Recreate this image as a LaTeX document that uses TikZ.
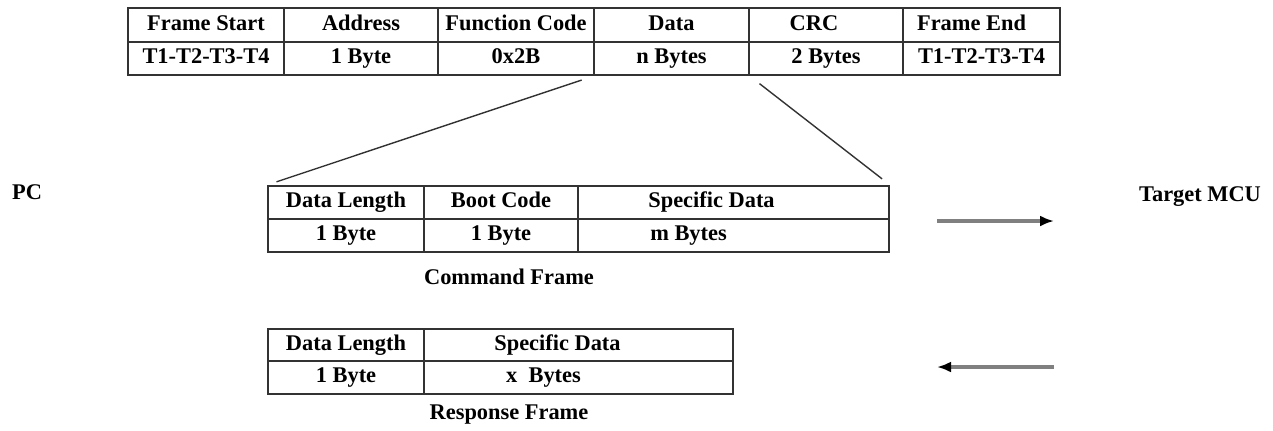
\documentclass[tikz,border=0pt]{standalone}
\usepackage{fontspec}
\setmainfont{Liberation Serif}
\usetikzlibrary{arrows.meta}

\begin{document}
\begin{tikzpicture}[x=0.5pt, y=-0.5pt,
    every node/.style={font=\fontsize{11.2}{13}\selectfont\bfseries},
    cell/.style={draw=black!80, line width=1pt, rectangle, inner sep=0pt, text height=7.6pt, text depth=2.4pt},
    zoomline/.style={draw=black!80, line width=0.7pt, shorten <=6pt, shorten >=5pt},
    flow/.style={draw=black!50, line width=1.7pt, -{Latex[length=7pt, width=5.5pt, black]}}]
    \useasboundingbox (0,0) rectangle (1273,430);

    % フレーム全体
    \node[cell, minimum width=78pt, minimum height=16.75pt] (fs) at (206, 25) {Frame Start};
    \node[cell, minimum width=77pt, minimum height=16.75pt] (ad) at (361, 25) {Address};
    \node[cell, minimum width=78pt, minimum height=16.75pt] (fc) at (516, 25) {Function Code};
    \node[cell, minimum width=77.5pt, minimum height=16.75pt] (da) at (671.5, 25) {Data};
    \node[cell, minimum width=77pt, minimum height=16.75pt] (crc) at (826, 25) {CRC\hspace*{12pt}};
    \node[cell, minimum width=78.5pt, minimum height=16.75pt] (fe) at (981.5, 25) {Frame End\hspace*{10pt}};
    \node[cell, minimum width=78pt, minimum height=16.75pt] (fsv) at (206, 58.5) {T1-T2-T3-T4};
    \node[cell, minimum width=77pt, minimum height=16.75pt] (adv) at (361, 58.5) {1 Byte};
    \node[cell, minimum width=78pt, minimum height=16.75pt] (fcv) at (516, 58.5) {0x2B};
    \node[cell, minimum width=77.5pt, minimum height=16.75pt] (dav) at (671.5, 58.5) {n Bytes};
    \node[cell, minimum width=77pt, minimum height=16.75pt] (crcv) at (826, 58.5) {2 Bytes};
    \node[cell, minimum width=78.5pt, minimum height=16.75pt] (fev) at (981.5, 58.5) {T1-T2-T3-T4};

    % コマンドフレーム
    \node[cell, minimum width=78pt, minimum height=16.5pt] (cdl) at (346, 202.5) {Data Length};
    \node[cell, minimum width=77pt, minimum height=16.5pt] (cbc) at (501, 202.5) {Boot Code};
    \node[cell, minimum width=155.5pt, minimum height=16.5pt] (csd) at (733.5, 202.5) {Specific Data\hspace*{22pt}};
    \node[cell, minimum width=78pt, minimum height=16.5pt] (cdlv) at (346, 235.5) {1 Byte};
    \node[cell, minimum width=77pt, minimum height=16.5pt] (cbcv) at (501, 235.5) {1 Byte};
    \node[cell, minimum width=155.5pt, minimum height=16.5pt] (csdv) at (733.5, 235.5) {m Bytes\hspace*{45pt}};
    \node (cmd) at (509, 277) {Command Frame};

    % レスポンスフレーム
    \node[cell, minimum width=78pt, minimum height=16.25pt] (rdl) at (346, 345) {Data Length};
    \node[cell, minimum width=154.5pt, minimum height=16.25pt] (rsd) at (578.5, 345) {Specific Data\hspace*{21pt}};
    \node[cell, minimum width=78pt, minimum height=16.25pt] (rdlv) at (346, 377.5) {1 Byte};
    \node[cell, minimum width=154.5pt, minimum height=16.25pt] (rsdv) at (578.5, 377.5) {x~ Bytes\hspace*{35pt}};
    \node (res) at (509, 415) {Response Frame};

    % PC と MCU
    \node (pc) at (27, 192) {PC};
    \node (mcu) at (1200, 197) {Target MCU};

    % 拡大線
    \draw[zoomline] (dav.south west) -- (cdl.north west);
    \draw[zoomline] (dav.south east) -- (csd.north east);

    % 矢印
    \coordinate (sendA) at (937, 221);
    \coordinate (sendB) at (1054, 221);
    \coordinate (recvA) at (1054, 367);
    \coordinate (recvB) at (937, 367);
    \draw[flow] (sendA) -- (sendB);
    \draw[flow] (recvA) -- (recvB);
\end{tikzpicture}
\end{document}
